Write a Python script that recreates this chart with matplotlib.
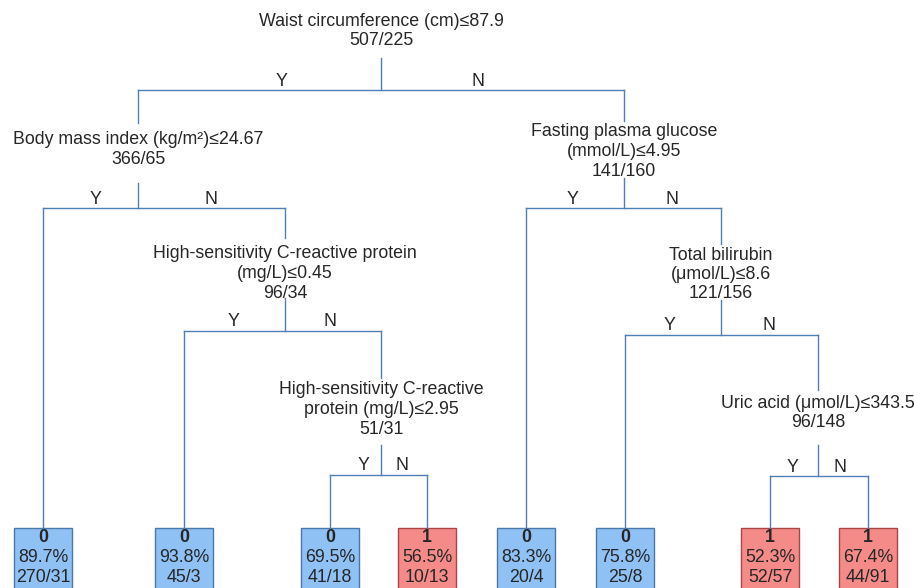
import matplotlib.pyplot as plt
from matplotlib.patches import Rectangle

plt.rcParams['font.family'] = ['Liberation Sans', 'DejaVu Sans']

# split nodes: rule text and counts (0/1)
split_rules = ["Waist circumference (cm)≤87.9",
               "Body mass index (kg/m²)≤24.67",
               "High-sensitivity C-reactive protein\n(mg/L)≤0.45",
               "High-sensitivity C-reactive\nprotein (mg/L)≤2.95",
               "Fasting plasma glucose\n(mmol/L)≤4.95",
               "Total bilirubin\n(μmol/L)≤8.6",
               "Uric acid (μmol/L)≤343.5"]
split_counts = ["507/225", "366/65", "96/34", "51/31", "141/160", "121/156", "96/148"]

# children of each split (Y branch, N branch): "s#" split, "l#" leaf
split_children = [("s1", "s4"), ("l0", "s2"), ("l1", "s3"), ("l2", "l3"),
                  ("l4", "s5"), ("l5", "s6"), ("l6", "l7")]

# leaves
leaf_class = [0, 0, 0, 1, 0, 0, 1, 1]
leaf_pct = [89.7, 93.8, 69.5, 56.5, 83.3, 75.8, 52.3, 67.4]
leaf_counts = ["270/31", "45/3", "41/18", "10/13", "20/4", "25/8", "52/57", "44/91"]

# layout (pixel-ish units, y goes down)
split_x = [381, 138, 285, 381, 624, 721, 818]
split_bar_y = [90, 208, 331, 475, 208, 335, 476]   # horizontal connector
split_text_y = [21, 140, 254, 390, 132, 255, 403]  # first text line
split_top = [None, 123, 238, 378, 121, 244, 390]   # where incoming line stops
split_bottom = [58, 183, 298, 445, 178, 300, 445]  # where outgoing line starts
y_lab_dx = [-99, -42, -51, -17, -51, -51, -25]
n_lab_dx = [97, 73, 45, 21, 48, 48, 22]
leaf_x = [43, 184, 330, 427, 526, 625, 770, 868]
leaf_top = 528
box_w, box_h = 58, 62
line_h = 19.5

line_col = "#4f7fb5"
fill = {0: "#8fc1f5", 1: "#f48b89"}
edge = {0: "#4a78a8", 1: "#a94544"}
txt_col = "#262626"
fs = 12.8

fig = plt.figure(figsize=(9.14, 5.88), dpi=100)
ax = fig.add_axes([0, 0, 1, 1])
ax.set_xlim(0, 914)
ax.set_ylim(588, 0)
ax.axis("off")


def node_pos(key):
    i = int(key[1:])
    if key[0] == "s":
        return split_x[i], split_top[i]
    return leaf_x[i], leaf_top


for i, rule in enumerate(split_rules):
    x = split_x[i]
    lines = rule.split("\n") + [split_counts[i]]
    for k, t in enumerate(lines):
        ax.text(x, split_text_y[i] + k * line_h, t, ha="center", va="center",
                fontsize=fs, color=txt_col)
    yb = split_bar_y[i]
    ax.plot([x, x], [split_bottom[i], yb], color=line_col, lw=1.0)
    cy, cn = split_children[i]
    xy, ty = node_pos(cy)
    xn, tn = node_pos(cn)
    ax.plot([xy, xn], [yb, yb], color=line_col, lw=1.0)
    ax.plot([xy, xy], [yb, ty], color=line_col, lw=1.0)
    ax.plot([xn, xn], [yb, tn], color=line_col, lw=1.0)
    ax.text(x + y_lab_dx[i], yb - 9, "Y", ha="center", va="center", fontsize=fs, color=txt_col)
    ax.text(x + n_lab_dx[i], yb - 9, "N", ha="center", va="center", fontsize=fs, color=txt_col)

for j, c in enumerate(leaf_class):
    x = leaf_x[j]
    ax.add_patch(Rectangle((x - box_w / 2, leaf_top), box_w, box_h,
                           facecolor=fill[c], edgecolor=edge[c], lw=1.0))
    ax.text(x, leaf_top + 10, str(c), ha="center", va="center", fontsize=fs,
            fontweight="bold", color=txt_col)
    ax.text(x, leaf_top + 30, f"{leaf_pct[j]}%", ha="center", va="center",
            fontsize=fs, color=txt_col)
    ax.text(x, leaf_top + 49, leaf_counts[j], ha="center", va="center",
            fontsize=fs, color=txt_col)

fig.savefig("out.png", dpi=100)
